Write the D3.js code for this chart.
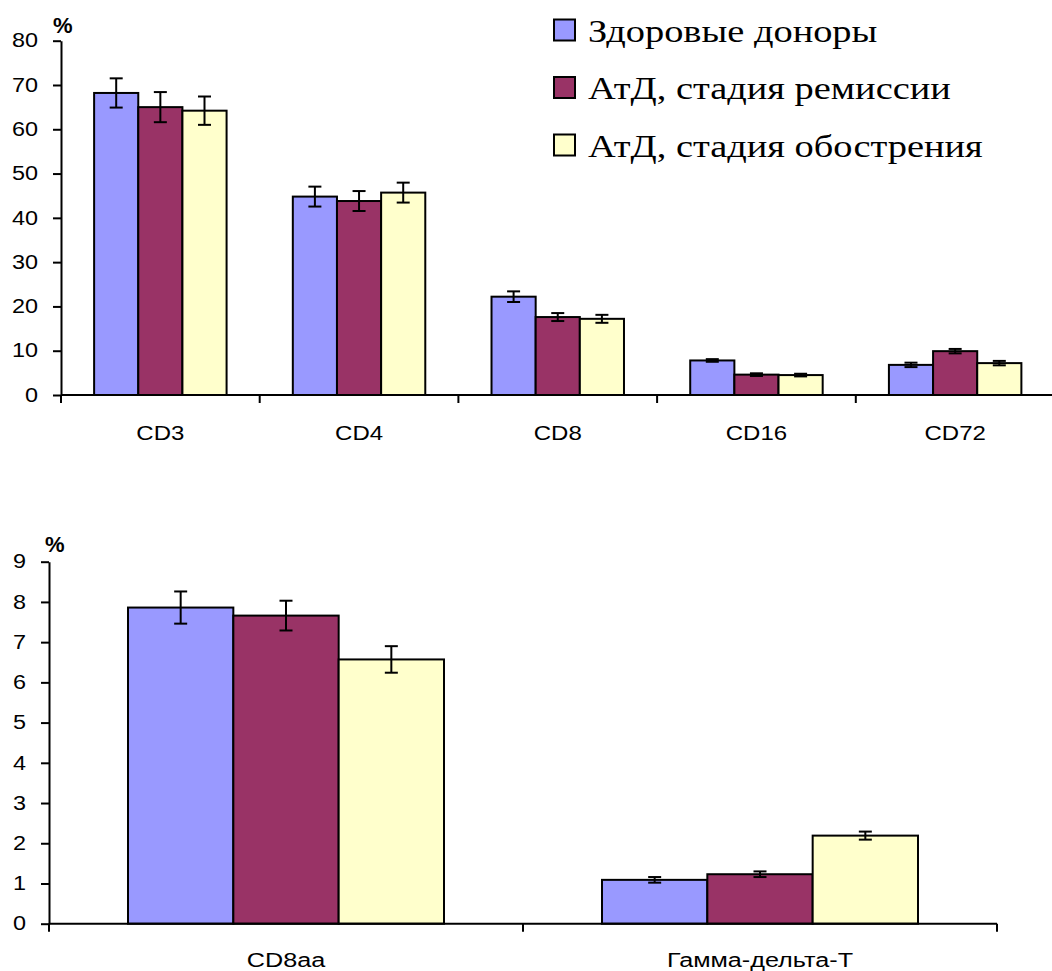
<!DOCTYPE html>
<html><head><meta charset="utf-8">
<script src="https://cdn.jsdelivr.net/npm/d3@7/dist/d3.min.js"></script>
<style>body{margin:0;background:#fff}svg{display:block}</style>
</head><body>
<svg id="chart" width="1052" height="971"></svg>
<script>
// ---- data ----
const seriesNames = ["Здоровые доноры", "АтД, стадия ремиссии", "АтД, стадия обострения"];
const seriesColors = ["#9999FF", "#993366", "#FFFFCC"];

const topCategories = ["CD3", "CD4", "CD8", "CD16", "CD72"];
const topHealthy = [68.2, 44.8, 22.2, 7.8, 6.8];
const topRemission = [65.0, 43.8, 17.6, 4.6, 9.9];
const topExacerbation = [64.2, 45.7, 17.2, 4.5, 7.2];
const topHealthyErr = [3.3, 2.25, 1.2, 0.3, 0.5];
const topRemissionErr = [3.4, 2.25, 0.9, 0.3, 0.5];
const topExacerbationErr = [3.2, 2.25, 0.9, 0.3, 0.5];
const topTicks = [0, 10, 20, 30, 40, 50, 60, 70, 80];

const bottomCategories = ["CD8aa", "Гамма-дельта-Т"];
const bottomHealthy = [7.86, 1.09];
const bottomRemission = [7.66, 1.23];
const bottomExacerbation = [6.57, 2.19];
const bottomHealthyErr = [0.4, 0.07];
const bottomRemissionErr = [0.37, 0.07];
const bottomExacerbationErr = [0.33, 0.1];
const bottomTicks = [0, 1, 2, 3, 4, 5, 6, 7, 8, 9];

const unitLabel = "%";

// ---- rendering ----
const SX = 1.2; // horizontal stretch of the original picture's text
const svg = d3.select("#chart");

function drawChart(cfg) {
  const g = svg.append("g");
  const x = d3.scaleBand().domain(cfg.categories).range([cfg.x0, cfg.x1]).paddingInner(0).paddingOuter(0);
  const bw = x.bandwidth();
  const xs = d3.scaleBand().domain(d3.range(3)).range([bw / 6, bw * 5 / 6]).padding(0);
  const y = d3.scaleLinear().domain([0, cfg.max]).range([cfg.y0, cfg.y1]);

  const values = [cfg.s1, cfg.s2, cfg.s3];
  const errs = [cfg.e1, cfg.e2, cfg.e3];
  const rows = [];
  cfg.categories.forEach((c, i) => {
    for (let s = 0; s < 3; s++) rows.push({ c, s, v: values[s][i], e: errs[s][i] });
  });

  // bars
  g.selectAll("rect.bar").data(rows).join("rect")
    .attr("class", "bar")
    .attr("x", d => x(d.c) + xs(d.s))
    .attr("y", d => y(d.v))
    .attr("width", xs.bandwidth())
    .attr("height", d => y(0) - y(d.v))
    .attr("fill", d => seriesColors[d.s])
    .attr("stroke", "#000").attr("stroke-width", 2);

  // error bars
  const cap = 6.5;
  const eg = g.selectAll("g.err").data(rows).join("g").attr("class", "err")
    .attr("stroke", "#000").attr("stroke-width", 2);
  const cx = d => x(d.c) + xs(d.s) + xs.bandwidth() / 2;
  eg.append("line")
    .attr("x1", cx).attr("x2", cx)
    .attr("y1", d => y(d.v + d.e)).attr("y2", d => y(d.v - d.e));
  eg.append("line")
    .attr("x1", d => cx(d) - cap).attr("x2", d => cx(d) + cap)
    .attr("y1", d => y(d.v + d.e)).attr("y2", d => y(d.v + d.e));
  eg.append("line")
    .attr("x1", d => cx(d) - cap).attr("x2", d => cx(d) + cap)
    .attr("y1", d => y(d.v - d.e)).attr("y2", d => y(d.v - d.e));

  // y axis
  const ya = g.append("g").attr("transform", `translate(${cfg.x0},0)`)
    .call(d3.axisLeft(y).tickValues(cfg.ticks).tickSize(8).tickSizeOuter(0).tickPadding(15));
  ya.select(".domain").attr("stroke-width", 2);
  ya.selectAll(".tick line").attr("stroke-width", 2);
  ya.selectAll(".tick text")
    .attr("font-family", "'Liberation Sans', Arial, sans-serif")
    .attr("font-size", 19.5).attr("fill", "#000")
    .attr("x", -23 / SX).attr("transform", `scale(${SX},1)`);

  // x axis line + boundary ticks
  g.append("line").attr("x1", cfg.x0).attr("x2", Math.min(cfg.x1, 1052))
    .attr("y1", y(0)).attr("y2", y(0)).attr("stroke", "#000").attr("stroke-width", 2);
  const bounds = cfg.categories.map(c => x(c)).concat([cfg.x1]);
  g.selectAll("line.xt").data(bounds).join("line").attr("class", "xt")
    .attr("x1", d => d).attr("x2", d => d)
    .attr("y1", y(0)).attr("y2", y(0) + 8)
    .attr("stroke", "#000").attr("stroke-width", 2);
  g.selectAll("text.xl").data(cfg.categories).join("text").attr("class", "xl")
    .attr("transform", d => `translate(${x(d) + bw / 2},${cfg.labelY}) scale(${SX},1)`)
    .attr("text-anchor", "middle")
    .attr("font-family", "'Liberation Sans', Arial, sans-serif")
    .attr("font-size", cfg.labelSize).attr("fill", "#000")
    .text(d => d);

  // unit label
  g.append("text")
    .attr("x", cfg.unitX).attr("y", cfg.unitY)
    .attr("font-family", "'Liberation Sans', Arial, sans-serif")
    .attr("font-size", 22).attr("font-weight", "bold").attr("fill", "#000")
    .text(unitLabel);
}

drawChart({
  categories: topCategories, s1: topHealthy, s2: topRemission, s3: topExacerbation,
  e1: topHealthyErr, e2: topRemissionErr, e3: topExacerbationErr,
  ticks: topTicks, max: 80, x0: 61, x1: 61 + 5 * 198.7, y0: 395, y1: 40.7,
  labelY: 440, labelSize: 20, unitX: 53, unitY: 33
});

drawChart({
  categories: bottomCategories, s1: bottomHealthy, s2: bottomRemission, s3: bottomExacerbation,
  e1: bottomHealthyErr, e2: bottomRemissionErr, e3: bottomExacerbationErr,
  ticks: bottomTicks, max: 9, x0: 49, x1: 997, y0: 923.7, y1: 561.7,
  labelY: 967, labelSize: 21, unitX: 45, unitY: 552
});

// legend
const lg = svg.append("g");
const li = lg.selectAll("g").data(seriesNames).join("g")
  .attr("transform", (d, i) => `translate(554,${19.5 + i * 57.5})`);
li.append("rect").attr("width", 21).attr("height", 21)
  .attr("fill", (d, i) => seriesColors[i]).attr("stroke", "#000").attr("stroke-width", 2);
li.append("text")
  .attr("transform", `translate(34,22.3) scale(${SX},1)`)
  .attr("font-family", "'Liberation Serif', 'Times New Roman', serif")
  .attr("font-size", 32).attr("fill", "#000")
  .text(d => d);
</script>
</body></html>
